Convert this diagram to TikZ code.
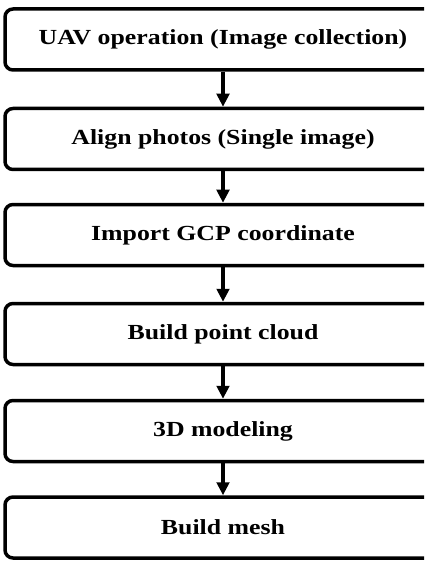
\documentclass[tikz,border=0pt]{standalone}
\usepackage{fontspec}
\setmainfont{Liberation Serif}[FakeStretch=1.2]
\usetikzlibrary{arrows.meta}
\tikzset{
  stepbox/.style={draw=black, line width=3.5pt, rounded corners=8pt, fill=white,
    minimum width=436pt, minimum height=61pt, inner sep=0pt,
    font=\fontsize{21.5}{24}\selectfont\bfseries},
  flow/.style={line width=3.5pt, -{Triangle[width=12.5pt,length=13pt]}}
}
\begin{document}
\begin{tikzpicture}[x=1pt, y=-1pt]
  \useasboundingbox (0,0) rectangle (424,561);
  \clip (0,0) rectangle (424,561);
  \fill[white] (0,0) rectangle (424,561);
  \node[stepbox] (uav)    at (223,39.5) {UAV operation (Image collection)};
  \node[stepbox] (align)  at (223,139)  {Align photos (Single image)};
  \node[stepbox] (gcp)    at (223,235)  {Import GCP coordinate};
  \node[stepbox] (cloud)  at (223,334)  {Build point cloud};
  \node[stepbox] (model)  at (223,431)  {3D modeling};
  \node[stepbox] (mesh)   at (223,527.5){Build mesh};
  \draw[flow] (uav.south)   -- (align.north);
  \draw[flow] (align.south) -- (gcp.north);
  \draw[flow] (gcp.south)   -- (cloud.north);
  \draw[flow] (cloud.south) -- (model.north);
  \draw[flow] (model.south) -- (mesh.north);
\end{tikzpicture}
\end{document}
